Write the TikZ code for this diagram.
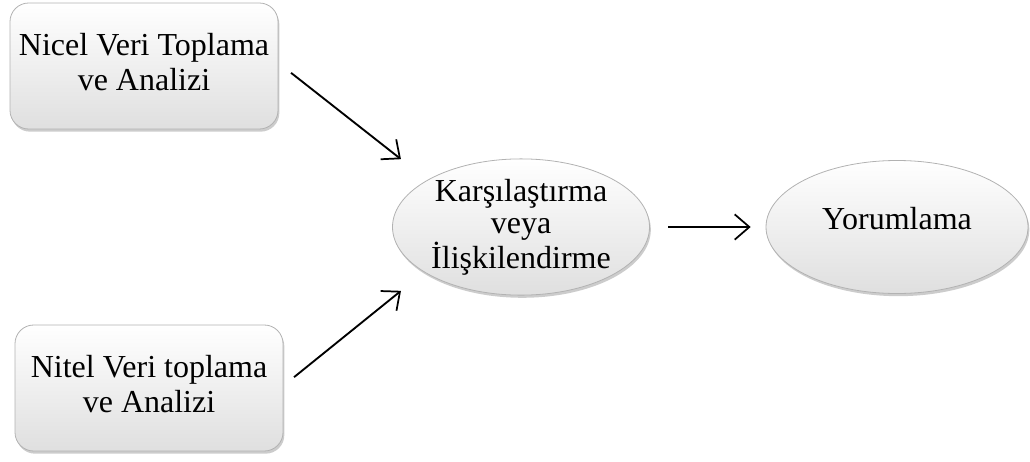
\documentclass[tikz,border=0pt]{standalone}
\usepackage{fontspec}
\setmainfont{Liberation Serif}
\usetikzlibrary{shapes.geometric,shadows,arrows.meta}
\begin{document}
\begin{tikzpicture}[x=0.75pt,y=-0.75pt,
  boxstyle/.style={rounded corners=14pt, minimum width=268*0.75pt, minimum height=126*0.75pt,
    top color=white, bottom color=gray!25, draw=gray!60, line width=0.6pt,
    drop shadow={shadow xshift=1pt,shadow yshift=-2pt,opacity=0.4,fill=gray},
    align=center, font=\fontsize{24}{25}\selectfont, inner sep=2pt},
  ellstyle/.style={ellipse, minimum width=257*0.75pt, minimum height=130*0.75pt,
    top color=white, bottom color=gray!25, draw=gray!60, line width=0.6pt,
    drop shadow={shadow xshift=1pt,shadow yshift=-2pt,opacity=0.4,fill=gray},
    align=center, font=\fontsize{24}{24.5}\selectfont, inner sep=0pt},
  conn/.style={-{Straight Barb[length=11pt,width=19pt,line width=1.3pt]}, line width=1.4pt, shorten >=1pt, shorten <=1pt}]
\useasboundingbox (0,0) rectangle (1030,461);
\node[boxstyle] (nicel) at (144,66) {\raisebox{-3pt}{\begin{tabular}{@{}c@{}}Nicel Veri Toplama\\[1pt]ve Analizi\end{tabular}}};
\node[boxstyle] (nitel) at (149,388) {\raisebox{-3pt}{\begin{tabular}{@{}c@{}}Nitel Veri toplama\\[1pt]ve Analizi\end{tabular}}};
\node[ellstyle] (kars) at (521,227) {Karşılaştırma\\veya\\İlişkilendirme};
\node[ellstyle, minimum width=262*0.75pt, minimum height=133*0.75pt] (yor) at (897,227) {\raisebox{13pt}{Yorumlama}};
\coordinate (a1s) at (290,72);
\coordinate (a1e) at (402,160);
\coordinate (a2s) at (293,378);
\coordinate (a2e) at (402,290);
\coordinate (a3s) at (667,227);
\coordinate (a3e) at (752,227);
\draw[conn] (a1s) -- (a1e);
\draw[conn] (a2s) -- (a2e);
\draw[conn] (a3s) -- (a3e);
\end{tikzpicture}
\end{document}
